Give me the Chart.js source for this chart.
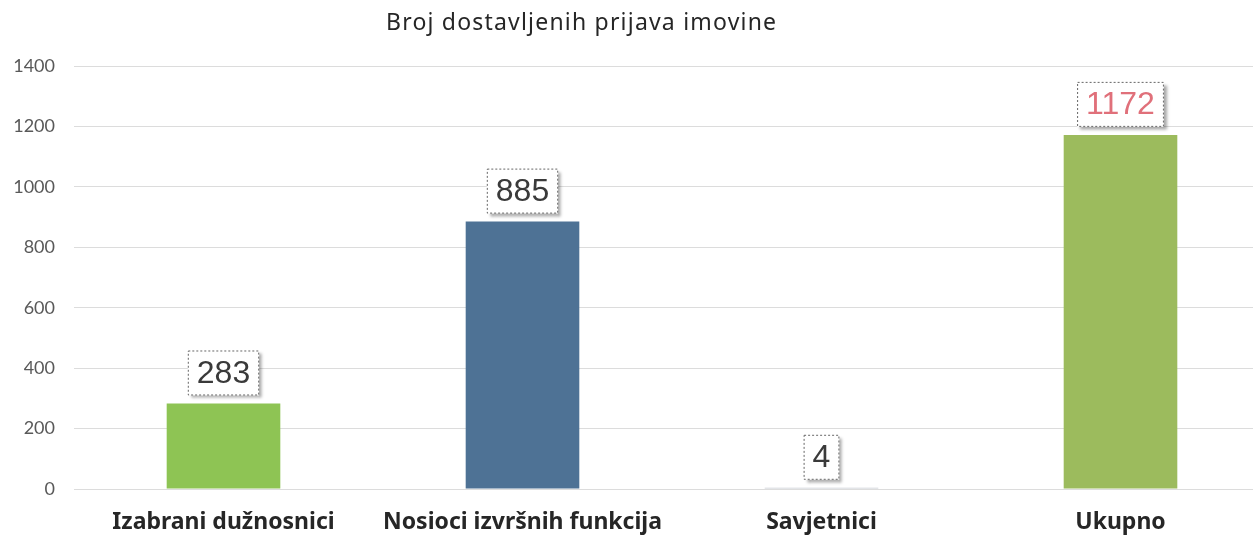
<!DOCTYPE html>
<html>
<head>
<meta charset="utf-8">
<script src="https://cdn.jsdelivr.net/npm/chart.js@4"></script>
<style>
  html, body { margin: 0; padding: 0; background: #fff; overflow: hidden; }
  #wrap { position: relative; width: 1253px; height: 538px; overflow: hidden; }
  #title {
    position: absolute; left: 386px; top: 5px;
    font-family: 'Noto Sans', sans-serif; font-size: 23px; color: #262626;
    letter-spacing: 1.2px; white-space: nowrap;
  }
  canvas { position: absolute; left: 0; top: 0; }
</style>
</head>
<body>
<div id="wrap">
  <canvas id="bar-chart" width="1270" height="538"></canvas>
  <div id="title">Broj dostavljenih prijava imovine</div>
</div>
<script>
const categories = ['Izabrani dužnosnici', 'Nosioci izvršnih funkcija', 'Savjetnici', 'Ukupno']
const counts = [283, 885, 4, 1172]
const barColors = ['#8ec454', '#4e7295', '#c8ccd2', '#9cbb5d']
const labelColors = ['#3a3a3a', '#3a3a3a', '#3a3a3a', '#e0707a']
const yTicks = [0, 200, 400, 600, 800, 1000, 1200, 1400]

// boxed value labels above each bar
const valueBoxes = {
  id: 'valueBoxes',
  afterDatasetsDraw (chart) {
    const ctx = chart.ctx
    const meta = chart.getDatasetMeta(0)
    ctx.save()
    ctx.font = '32px "Liberation Sans", Arial, sans-serif'
    ctx.textAlign = 'center'
    ctx.textBaseline = 'middle'
    meta.data.forEach((bar, i) => {
      const text = String(counts[i])
      const w = ctx.measureText(text).width + 18
      const h = 45
      const x = bar.x - w / 2
      const y = bar.y - 8 - h
      ctx.save()
      ctx.shadowColor = 'rgba(0,0,0,0.35)'
      ctx.shadowOffsetX = 3
      ctx.shadowOffsetY = 3
      ctx.shadowBlur = 3
      ctx.fillStyle = '#fff'
      ctx.fillRect(x, y, w, h)
      ctx.restore()
      ctx.strokeStyle = '#666'
      ctx.lineWidth = 1
      ctx.setLineDash([2, 2])
      ctx.strokeRect(x + 0.5, y + 0.5, w - 1, h - 1)
      ctx.setLineDash([])
      ctx.fillStyle = labelColors[i]
      ctx.fillText(text, bar.x, y + h / 2 + 1)
    })
    ctx.restore()
  }
}

// eslint-disable-next-line no-unused-vars, no-undef
const chart = new Chart(document.querySelector('#bar-chart'), {
  type: 'bar',
  data: {
    labels: categories,
    datasets: [{
      data: counts,
      backgroundColor: barColors,
      barPercentage: 0.38,
      categoryPercentage: 1
    }]
  },
  options: {
    responsive: false,
    animation: false,
    devicePixelRatio: 1,
    layout: { padding: { top: 66, left: 0, right: 0, bottom: 0 } },
    plugins: {
      legend: { display: false },
      tooltip: { enabled: false }
    },
    scales: {
      x: {
        grid: { display: false, drawTicks: false },
        border: { display: false },
        ticks: {
          padding: 20,
          color: '#262626',
          font: { family: '"Noto Sans", sans-serif', size: 23, weight: 'bold' }
        },
        afterFit (scale) { scale.height = 49 }
      },
      y: {
        min: 0,
        max: 1400,
        afterBuildTicks (scale) { scale.ticks = yTicks.map(v => ({ value: v })) },
        grid: { color: '#dcdcdc', lineWidth: 1, drawTicks: false },
        border: { display: false },
        ticks: {
          padding: 19,
          color: '#595959',
          font: { family: 'Lato, sans-serif', size: 18 },
          callback: v => String(v)
        },
        afterFit (scale) { scale.width = 74 }
      }
    }
  },
  plugins: [valueBoxes]
})
</script>
</body>
</html>
